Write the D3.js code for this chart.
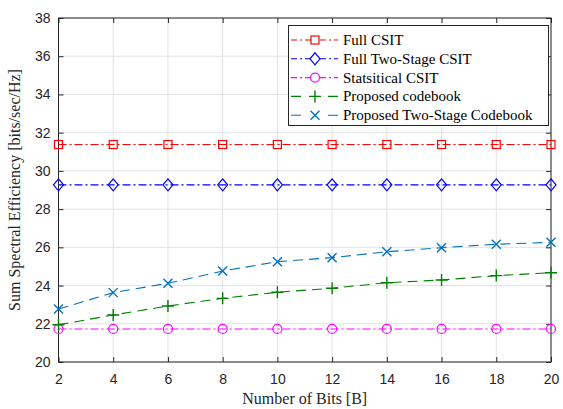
<!doctype html>
<html>
<head>
<script src="https://d3js.org/d3.v7.min.js"></script>
<style>
  body { margin: 0; background: #fff; }
  .tick text { font-family: "Liberation Sans", Arial, sans-serif; font-size: 14px; fill: #262626; }
</style>
</head>
<body>
<script>
var bits = [2, 4, 6, 8, 10, 12, 14, 16, 18, 20];
var fullCsit = [31.38, 31.38, 31.38, 31.38, 31.38, 31.38, 31.38, 31.38, 31.38, 31.38];
var fullTwoStage = [29.27, 29.27, 29.27, 29.27, 29.27, 29.27, 29.27, 29.27, 29.27, 29.27];
var statCsit = [21.73, 21.73, 21.73, 21.73, 21.73, 21.73, 21.73, 21.73, 21.73, 21.73];
var proposed = [21.95, 22.46, 22.93, 23.33, 23.65, 23.86, 24.15, 24.29, 24.52, 24.67];
var proposedTwoStage = [22.77, 23.63, 24.12, 24.76, 25.25, 25.46, 25.77, 25.98, 26.16, 26.26];
var yTicks = [20, 22, 24, 26, 28, 30, 32, 34, 36, 38];

var series = [
  { name: "Full CSIT", values: fullCsit, color: "#ff0000", dash: "8,3,2,3", marker: "square" },
  { name: "Full Two-Stage CSIT", values: fullTwoStage, color: "#0000ff", dash: "8,3,2,3", marker: "diamond" },
  { name: "Statsitical CSIT", values: statCsit, color: "#ff00ff", dash: "8,3,2,3", marker: "circle" },
  { name: "Proposed codebook", values: proposed, color: "#008000", dash: "10,6", marker: "plus" },
  { name: "Proposed Two-Stage Codebook", values: proposedTwoStage, color: "#0072bd", dash: "10,6", marker: "cross" }
];

var width = 563, height = 409;
var pLeft = 58.5, pRight = 551, pTop = 18, pBottom = 362;

var svg = d3.select("body").append("svg")
  .attr("width", width)
  .attr("height", height);

var x = d3.scaleLinear().domain([2, 20]).range([pLeft, pRight]);
var y = d3.scaleLinear().domain([20, 38]).range([pBottom, pTop]);

// grid
svg.append("g").selectAll("line").data(bits).enter().append("line")
  .attr("x1", function(d) { return x(d); }).attr("x2", function(d) { return x(d); })
  .attr("y1", pTop).attr("y2", pBottom)
  .attr("stroke", "#e3e3e3").attr("stroke-width", 1);
svg.append("g").selectAll("line").data(yTicks).enter().append("line")
  .attr("y1", function(d) { return y(d); }).attr("y2", function(d) { return y(d); })
  .attr("x1", pLeft).attr("x2", pRight)
  .attr("stroke", "#e3e3e3").attr("stroke-width", 1);

// axes
var xAxis = d3.axisBottom(x).tickValues(bits).tickSize(-5).tickPadding(12);
var yAxis = d3.axisLeft(y).tickValues(yTicks).tickSize(-5).tickPadding(8);

var gx = svg.append("g").attr("transform", "translate(0," + pBottom + ")").call(xAxis);
var gy = svg.append("g").attr("transform", "translate(" + pLeft + ",0)").call(yAxis);
var gxt = svg.append("g").attr("transform", "translate(0," + pTop + ")")
  .call(d3.axisTop(x).tickValues(bits).tickSize(-5).tickFormat(""));
var gyr = svg.append("g").attr("transform", "translate(" + pRight + ",0)")
  .call(d3.axisRight(y).tickValues(yTicks).tickSize(-5).tickFormat(""));
[gx, gy, gxt, gyr].forEach(function(g) {
  g.select(".domain").remove();
  g.selectAll(".tick line").attr("stroke", "#262626");
});

svg.append("rect")
  .attr("x", pLeft).attr("y", pTop)
  .attr("width", pRight - pLeft).attr("height", pBottom - pTop)
  .attr("fill", "none").attr("stroke", "#262626").attr("stroke-width", 1);

// markers
function drawMarker(g, type, cx, cy, color) {
  if (type == "square") {
    g.append("rect").attr("x", cx - 4).attr("y", cy - 4).attr("width", 8).attr("height", 8)
      .attr("fill", "none").attr("stroke", color).attr("stroke-width", 1.2);
  } else if (type == "diamond") {
    g.append("path").attr("d", "M" + cx + "," + (cy - 6) + "L" + (cx + 5) + "," + cy + "L" + cx + "," + (cy + 6) + "L" + (cx - 5) + "," + cy + "Z")
      .attr("fill", "none").attr("stroke", color).attr("stroke-width", 1.2);
  } else if (type == "circle") {
    g.append("circle").attr("cx", cx).attr("cy", cy).attr("r", 4.5)
      .attr("fill", "none").attr("stroke", color).attr("stroke-width", 1.2);
  } else if (type == "plus") {
    g.append("path").attr("d", "M" + (cx - 6) + "," + cy + "H" + (cx + 6) + "M" + cx + "," + (cy - 6) + "V" + (cy + 6))
      .attr("stroke", color).attr("stroke-width", 1.4);
  } else if (type == "cross") {
    g.append("path").attr("d", "M" + (cx - 4.5) + "," + (cy - 4.5) + "L" + (cx + 4.5) + "," + (cy + 4.5) + "M" + (cx - 4.5) + "," + (cy + 4.5) + "L" + (cx + 4.5) + "," + (cy - 4.5))
      .attr("stroke", color).attr("stroke-width", 1.4);
  }
}

var line = d3.line()
  .x(function(d, i) { return x(bits[i]); })
  .y(function(d) { return y(d); });

series.forEach(function(s) {
  var g = svg.append("g");
  g.append("path").datum(s.values)
    .attr("d", line)
    .attr("fill", "none")
    .attr("stroke", s.color)
    .attr("stroke-width", 1.1)
    .attr("stroke-dasharray", s.dash);
  s.values.forEach(function(v, i) {
    drawMarker(g, s.marker, x(bits[i]), y(v), s.color);
  });
});

// legend
var lx = 288.5, ly = 25.5;
var legend = svg.append("g");
legend.append("rect")
  .attr("x", lx).attr("y", ly).attr("width", 260).attr("height", 100)
  .attr("fill", "#fff").attr("stroke", "#262626").attr("stroke-width", 1);
series.forEach(function(s, i) {
  var yy = 40 + i * 18.8;
  legend.append("line")
    .attr("x1", 291).attr("x2", 338).attr("y1", yy).attr("y2", yy)
    .attr("stroke", s.color).attr("stroke-width", 1.1)
    .attr("stroke-dasharray", s.dash == "10,6" ? "10,27,10" : "6,3,2,3,6,9,6,3,2,3,6");
  drawMarker(legend, s.marker, 315, yy, s.color);
  legend.append("text")
    .attr("x", 343).attr("y", yy + 5)
    .attr("font-family", "'Liberation Serif', 'Times New Roman', serif")
    .attr("font-size", "15px").attr("fill", "#000")
    .text(s.name);
});

// axis labels
svg.append("text")
  .attr("x", (pLeft + pRight) / 2).attr("y", 404)
  .attr("text-anchor", "middle")
  .attr("font-family", "'Liberation Serif', 'Times New Roman', serif")
  .attr("font-size", "16px").attr("fill", "#262626")
  .text("Number of Bits [B]");
svg.append("text")
  .attr("transform", "translate(20," + ((pTop + pBottom) / 2) + ") rotate(-90)")
  .attr("text-anchor", "middle")
  .attr("font-family", "'Liberation Serif', 'Times New Roman', serif")
  .attr("font-size", "16px").attr("fill", "#262626")
  .text("Sum Spectral Efficiency [bits/sec/Hz]");
</script>
</body>
</html>
